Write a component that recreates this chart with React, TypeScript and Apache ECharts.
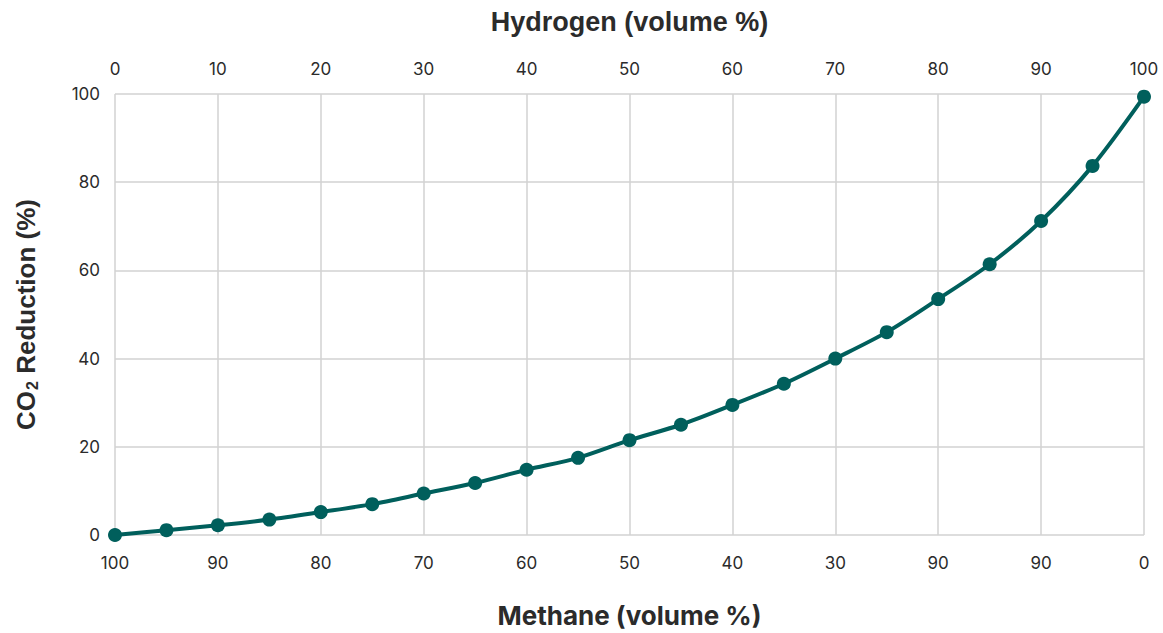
import React, { useEffect, useRef } from "react";
import * as echarts from "echarts";

const hydrogen = [0, 5, 10, 15, 20, 25, 30, 35, 40, 45, 50, 55, 60, 65, 70, 75, 80, 85, 90, 95, 100];
const co2Reduction = [0, 1.1, 2.2, 3.5, 5.2, 7.0, 9.4, 11.8, 14.8, 17.5, 21.5, 25.0, 29.5, 34.3, 40.0, 46.0, 53.5, 61.4, 71.2, 83.7, 99.4];
const topTicks = ["0", "10", "20", "30", "40", "50", "60", "70", "80", "90", "100"];
const methaneTicks = ["100", "90", "80", "70", "60", "50", "40", "30", "90", "90", "0"];

const TICK_FONT = "Inter";
const TITLE_FONT = "Liberation Sans";
const LINE_COLOR = "#005f5c";
const GRID_COLOR = "#d2d2d2";
const TEXT_COLOR = "#2b2b2b";

export default function App() {
  const ref = useRef<HTMLDivElement>(null);
  useEffect(() => {
    if (!ref.current) return;
    const chart = echarts.init(ref.current, undefined, { renderer: "svg" });
    const tickIndex = (v: number) => Math.round(v / 10);
    chart.setOption({
      animation: false,
      backgroundColor: "#ffffff",
      grid: { left: 115, right: 19, top: 94, bottom: 93, containLabel: false },
      xAxis: [
        {
          type: "value",
          position: "top",
          min: 0,
          max: 100,
          interval: 10,
          name: "Hydrogen (volume %)",
          nameLocation: "middle",
          nameGap: 59,
          nameTextStyle: { fontFamily: TITLE_FONT, fontWeight: "bold", fontSize: 27, color: TEXT_COLOR },
          axisLine: { show: false },
          axisTick: { show: false },
          axisLabel: {
            margin: 17,
            fontFamily: TICK_FONT,
            fontSize: 17,
            color: TEXT_COLOR,
            formatter: (v: number) => topTicks[tickIndex(v)] ?? "",
          },
          splitLine: { show: true, lineStyle: { color: GRID_COLOR, width: 1.5 } },
        },
        {
          type: "value",
          position: "bottom",
          min: 0,
          max: 100,
          interval: 10,
          name: "Methane (volume %)",
          nameLocation: "middle",
          nameGap: 67,
          nameTextStyle: { fontFamily: TICK_FONT, fontWeight: "bold", fontSize: 26, color: TEXT_COLOR },
          axisLine: { show: false },
          axisTick: { show: false },
          axisLabel: {
            margin: 19,
            fontFamily: TICK_FONT,
            fontSize: 17,
            color: TEXT_COLOR,
            formatter: (v: number) => methaneTicks[tickIndex(v)] ?? "",
          },
          splitLine: { show: false },
        },
      ],
      yAxis: {
        type: "value",
        min: 0,
        max: 100,
        interval: 20,
        name: "CO{sub|2} Reduction (%)",
        nameLocation: "middle",
        nameGap: 75,
        nameRotate: 90,
        nameTextStyle: {
          fontFamily: TITLE_FONT,
          fontWeight: "bold",
          fontSize: 26,
          color: TEXT_COLOR,
          rich: {
            sub: {
              fontFamily: TITLE_FONT,
              fontWeight: "bold",
              fontSize: 16,
              color: TEXT_COLOR,
              verticalAlign: "bottom",
              padding: [13, 0, 0, 1],
            },
          },
        },
        axisLine: { show: false },
        axisTick: { show: false },
        axisLabel: { margin: 15, fontFamily: TICK_FONT, fontSize: 17, color: TEXT_COLOR },
        splitLine: { show: true, lineStyle: { color: GRID_COLOR, width: 1.5 } },
      },
      series: [
        {
          type: "line",
          xAxisIndex: 0,
          data: hydrogen.map((h, i) => [h, co2Reduction[i]]),
          smooth: 0.3,
          symbol: "circle",
          symbolSize: 14,
          lineStyle: { color: LINE_COLOR, width: 4 },
          itemStyle: { color: LINE_COLOR },
          z: 5,
        },
      ],
    });
    return () => chart.dispose();
  }, []);
  return <div ref={ref} style={{ position: "fixed", left: 0, top: 0, width: 1163, height: 633 }} />;
}
